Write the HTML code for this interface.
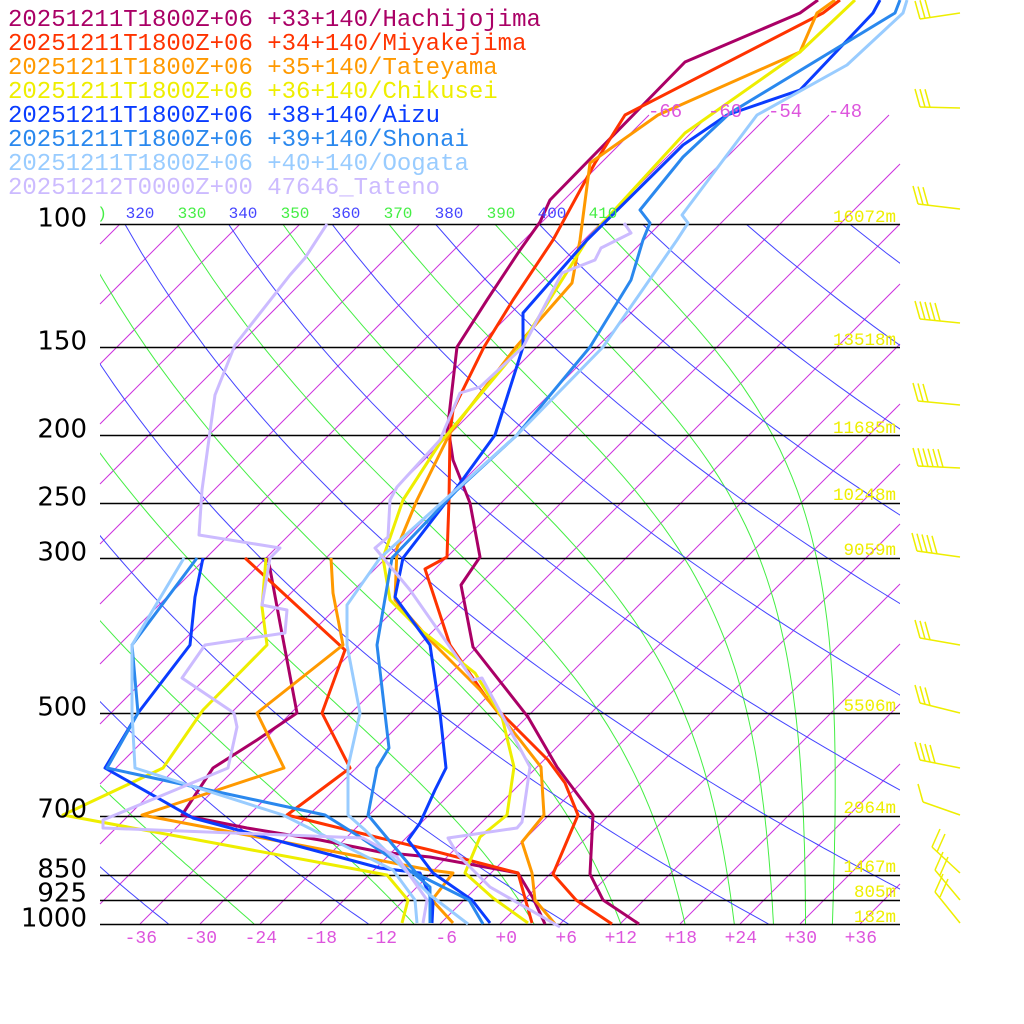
<!DOCTYPE html>
<html><head><meta charset="utf-8">
<style>
html,body{margin:0;padding:0;background:#fff;}
svg{display:block;}
text{font-family:"Liberation Mono","DejaVu Sans Mono",monospace;}
</style></head>
<body>
<svg id="s" width="1024" height="1024" viewBox="0 0 1024 1024" xmlns="http://www.w3.org/2000/svg">
<defs><clipPath id="pc"><rect x="100" y="224" width="800" height="700"/></clipPath></defs>
<g id="grid"></g>
<g id="plines" stroke="#000" stroke-width="1.5"></g>
<g id="data" fill="none" stroke-width="3" stroke-linejoin="round"></g>
<g id="barbs" stroke="#eeee00" stroke-width="1.5" fill="none"></g>
<g id="txt"></g>
</svg>
<script>
var NS="http://www.w3.org/2000/svg";
function el(par,tag,at,txt){var e=document.createElementNS(NS,tag);for(var k in at)e.setAttribute(k,at[k]);if(txt!==undefined)e.textContent=txt;document.getElementById(par).appendChild(e);return e;}
function Y(p){return 224+304*Math.log(p/100);}
function X(T,y){return 500+10*T+(924-y);}
// isotherms every 6C
for(var T=-120;T<=60;T+=6){
  var ymin=224;
  if(T>=-66) ymin=115;
  var y1=924,y2=ymin;
  var x1=X(T,y1),x2=X(T,y2);
  if(x1<100){ y1=924-(100-x1); x1=100; }
  if(x2>900){ y2=y2+(x2-900); x2=900; }
  if(y1<=y2) continue;
  if(x1>900||x2<100) continue;
  el('grid','line',{x1:x1,y1:y1,x2:x2,y2:y2,stroke:'#cc33dd','stroke-width':1});
}
var gd=el('grid','g',{'clip-path':'url(#pc)'});
gd.id='gclip';
// moist adiabats
function es(Tk){var t=Tk-273.15;return 6.112*Math.exp(17.67*t/(t+243.5));}
function rs(Tk,p){var e=es(Tk);return 0.622*e/(p-e);}
function thetae(Tk,p){var r=rs(Tk,p);return Tk*Math.pow(1000/p,0.2854*(1-0.28*r))*Math.exp((3.376/Tk-0.00254)*r*1000*(1+0.81*r));}
function dTdp(Tk,p){var r=rs(Tk,p);var Rd=287,cp=1005,L=2.5e6;return (Rd*Tk+L*r)/(p*(cp+L*L*r*0.622/(Rd*Tk*Tk)));}
for(var te=230;te<=410;te+=20){
  var lo=200,hi=320;
  for(var i=0;i<60;i++){var m=(lo+hi)/2;if(thetae(m,1000)<te)lo=m;else hi=m;}
  var Tk=(lo+hi)/2,p=1000,pts=[];
  var y=Y(p);pts.push(X(Tk-273.15,y).toFixed(1)+','+y.toFixed(1));
  var dp=-2;
  while(p>100){
    var k1=dTdp(Tk,p);var k2=dTdp(Tk+k1*dp,p+dp);
    Tk+=0.5*(k1+k2)*dp;p+=dp;
    if(Math.round(p)%10==0){y=Y(p);pts.push(X(Tk-273.15,y).toFixed(1)+','+y.toFixed(1));}
  }
  el('gclip','polyline',{points:pts.join(' '),fill:'none',stroke:'#44ee44','stroke-width':1});
}
// dry adiabats
for(var th=180;th<=500;th+=20){
  var pts=[];
  for(var p=100;p<=1000;p+=10){var Tc=th*Math.pow(p/1000,0.286)-273.15;var y=Y(p);pts.push(X(Tc,y).toFixed(1)+','+y.toFixed(1));}
  el('gclip','polyline',{points:pts.join(' '),fill:'none',stroke:'#4444ff','stroke-width':1});
}
// pressure lines
[100,150,200,250,300,500,700,850,925,1000].forEach(function(p){var y=Math.round(Y(p))+0.5;el('plines','line',{x1:100,y1:y,x2:900,y2:y});});
// labels
var pl=[[100,217],[150,340],[200,428],[250,496],[300,551],[500,706],[700,808],[850,868],[925,892],[1000,917]];
pl.forEach(function(a){el('txt','text',{x:87,y:a[1]+9.5,'text-anchor':'end','font-size':26,fill:'#000',style:'font-family:"DejaVu Sans",sans-serif'},''+a[0]);});
var hl=[['16072m',216],['13518m',339],['11685m',427],['10248m',494],['9059m',549],['5506m',705],['2964m',807],['1467m',866],['805m',891],['182m',916]];
hl.forEach(function(a){el('txt','text',{x:896,y:a[1]+6,'text-anchor':'end','font-size':17.5,fill:'#eeee00'},a[0]);});
for(var T=-36;T<=36;T+=6){el('txt','text',{x:500+10*T+17,y:943,'text-anchor':'end','font-size':18,fill:'#dd55dd'},(T>=0?'+':'')+T);}
[-66,-60,-54,-48].forEach(function(T){el('txt','text',{x:X(T,115)-1,y:117,'font-size':19,fill:'#dd55dd'},''+T);});
var tl=[[')',102,'#44ee44'],['320',140,'#4444ff'],['330',192,'#44ee44'],['340',243,'#4444ff'],['350',295,'#44ee44'],['360',346,'#4444ff'],['370',398,'#44ee44'],['380',449,'#4444ff'],['390',501,'#44ee44'],['400',552,'#4444ff'],['410',603,'#44ee44']];
tl.forEach(function(a){el('txt','text',{x:a[1],y:218,'text-anchor':'middle','font-size':16,fill:a[2]},a[0]);});
var leg=[['20251211T1800Z+06 +33+140/Hachijojima','#aa0066'],['20251211T1800Z+06 +34+140/Miyakejima','#ff3300'],['20251211T1800Z+06 +35+140/Tateyama','#ff9900'],['20251211T1800Z+06 +36+140/Chikusei','#eeee00'],['20251211T1800Z+06 +38+140/Aizu','#0a3cff'],['20251211T1800Z+06 +39+140/Shonai','#2a88ee'],['20251211T1800Z+06 +40+140/Oogata','#99ccff'],['20251212T0000Z+00 47646_Tateno','#ccbbff']];
leg.forEach(function(a,i){el('txt','text',{x:8,y:26+24*i,'font-size':24,fill:a[1]},a[0]);});
// data
var S=[
['#aa0066','818,0 800,13 685,62 550,200 540,222 520,250 487,300 457,347 447,433 450,440 453,460 470,503 480,557 461,585 473,647 528,717 557,767 593,815 590,874 603,900 639,924'],
['#aa0066','268,558 280,623 297,713 257,740 213,768 182,815 247,828 320,840 380,852 430,857 518,873 533,898 545,924'],
['#ff3300','840,0 823,13 625,115 595,163 553,240 513,300 484,347 453,410 450,433 449,500 447,557 425,569 450,645 488,700 548,760 565,783 578,815 553,874 576,900 612,924'],
['#ff3300','245,558 345,650 322,713 350,768 287,815 380,838 430,850 518,873 532,923'],
['#ff9900','835,0 817,13 800,52 658,115 590,163 580,240 572,283 516,347 450,433 417,500 397,548 395,600 430,640 480,690 520,740 541,767 544,815 522,842 532,873 535,900 555,924'],
['#ff9900','331,558 333,593 343,645 257,713 284,768 142,815 430,870 453,873 432,900 453,923'],
['#eeee00','855,0 800,52 685,133 587,240 520,347 440,443 403,500 383,558 390,600 417,627 475,673 502,717 514,767 507,815 480,837 465,873 493,898 528,923'],
['#eeee00','266,558 262,607 267,645 203,710 163,768 63,815 387,875 408,900 402,923'],
['#0a3cff','880,0 873,13 800,90 727,115 683,145 587,240 523,313 523,347 495,435 450,497 403,558 395,597 430,645 440,713 446,768 435,790 420,823 408,840 433,873 472,900 490,923'],
['#0a3cff','203,558 195,597 190,645 138,713 105,768 193,818 380,868 420,873 433,903 432,923'],
['#2a88ee','900,0 895,13 730,113 683,157 640,210 650,223 643,240 631,280 590,347 517,435 457,490 392,558 377,645 389,748 377,768 368,815 417,874 469,900 483,924'],
['#2a88ee','197,558 132,645 138,713 107,768 325,815 360,837 413,873 430,887 430,923'],
['#99ccff','907,0 903,13 847,65 757,115 682,215 688,223 677,240 603,347 517,435 380,558 347,605 347,645 360,713 348,767 348,815 365,830 405,870 430,895 468,924'],
['#99ccff','184,558 132,645 132,713 135,768 283,815 393,870 415,900 417,923'],
['#ccbbff','624,223 631,233 601,248 595,260 562,273 523,347 480,387 460,393 440,440 397,487 390,500 388,537 375,548 410,590 473,680 482,678 530,767 523,815 522,822 517,828 448,838 458,855 490,887 560,927'],
['#ccbbff','327,224 305,258 290,275 235,345 215,395 202,490 199,535 280,548 270,558 262,605 287,610 285,633 205,645 182,678 234,713 237,727 228,768 103,820 103,828 363,838 397,857 427,900 423,923']
];
S.forEach(function(a){el('data','polyline',{points:a[1],stroke:a[0]});});
// wind barbs
var B=[[920,19,13,3],[920,107,108,3],[918,204,209,3],[920,319,323,5],[918,401,405,3],[918,466,468,6],[917,551,557,5],[920,638,645,3],[920,703,713,3],[920,760,768,4],[923,802,815,1]];
B.forEach(function(b){
  var x0=b[0],y0=b[1],y1=b[2];
  el('barbs','line',{x1:x0,y1:y0,x2:960,y2:y1});
  for(var i=0;i<b[3];i++){var bx=x0+i*5,by=y0+(y1-y0)*(bx-x0)/(960-x0);el('barbs','line',{x1:bx,y1:by,x2:bx-5,y2:by-18});}
});
[[932,847,960,873],[935,870,960,900],[935,892,960,923]].forEach(function(b){
  el('barbs','line',{x1:b[0],y1:b[1],x2:b[2],y2:b[3]});
  el('barbs','line',{x1:b[0],y1:b[1],x2:b[0]+8,y2:b[1]-18});
  el('barbs','line',{x1:b[0]+5,y1:b[1]+5,x2:b[0]+13,y2:b[1]-13});
});
</script>
</body></html>
